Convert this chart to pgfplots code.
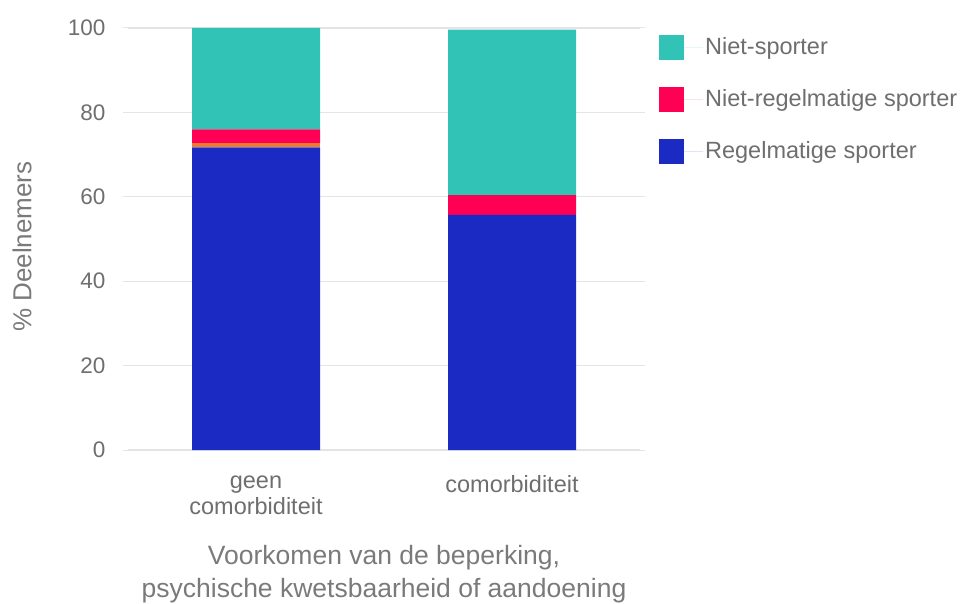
\documentclass[border=0pt]{standalone}
\usepackage{pgfplots}
\pgfplotsset{compat=1.18}
\usepackage{fontspec}
\setmainfont{Liberation Sans}
\definecolor{cblue}{HTML}{1B2AC2}
\definecolor{corange}{HTML}{F27A2C}
\definecolor{cred}{HTML}{FF0055}
\definecolor{cteal}{HTML}{31C4B6}
\definecolor{tgray}{HTML}{6E6E6E}
\definecolor{lgray}{HTML}{7A7A7A}
\definecolor{ggray}{HTML}{E4E4E4}
\begin{document}
\begin{tikzpicture}[x=1pt,y=1pt]
\path[use as bounding box] (0,0) rectangle (964,603);
\begin{axis}[
  at={(128pt,153pt)}, anchor=south west,
  scale only axis, width=512pt, height=422pt,
  ybar stacked, bar width=0.5,
  xmin=-0.5, xmax=1.5, ymin=0, ymax=100,
  xtick={0,1}, xticklabels={{geen\\comorbiditeit},{comorbiditeit}},
  ytick={0,20,40,60,80,100},
  axis line style={draw=none},
  ymajorgrids, grid style={ggray, line width=1.2pt},
  major tick length=5pt, tick align=outside,
  xtick style={draw=none}, ytick style={ggray, line width=1pt},
  yticklabel style={font=\fontsize{22.5}{26}\selectfont, text=tgray, xshift=-14pt},
  xticklabel style={font=\fontsize{23.5}{26}\selectfont, text=tgray, align=center, yshift=-17pt},
  /pgf/number format/assume math mode=true,
  ylabel={\% Deelnemers},
  ylabel style={at={(axis description cs:-0.207,0.482)}, anchor=center, font=\fontsize{26}{30}\selectfont, text=lgray},
  xlabel={Voorkomen van de beperking,\\psychische kwetsbaarheid of aandoening},
  xlabel style={at={(axis description cs:0.5,-0.294)}, anchor=center, align=center, font=\fontsize{26.5}{33}\selectfont, text=lgray},
  reverse legend,
  legend cell align=left,
  legend style={at={(axis description cs:1.037,0.985)}, anchor=north west, draw=none, fill=none,
    font=\fontsize{23.5}{27}\selectfont, text=tgray, row sep=27pt, inner sep=0pt},
  legend image code/.code={\fill[#1] (0pt,-12.5pt) rectangle (25pt,12.5pt); \path (25pt,0pt) -- (44pt,0pt);},
]
\addplot[fill=cblue, draw=none] coordinates {(0,71.7) (1,55.7)};
\addlegendentry{Regelmatige sporter}
\addplot[fill=corange, draw=none, forget plot] coordinates {(0,1.0) (1,0)};
\addplot[fill=cred, draw=none] coordinates {(0,3.3) (1,4.7)};
\addlegendentry{Niet-regelmatige sporter}
\addplot[fill=cteal, draw=none] coordinates {(0,24.0) (1,39.2)};
\addlegendentry{Niet-sporter}
\end{axis}
\end{tikzpicture}
\end{document}
